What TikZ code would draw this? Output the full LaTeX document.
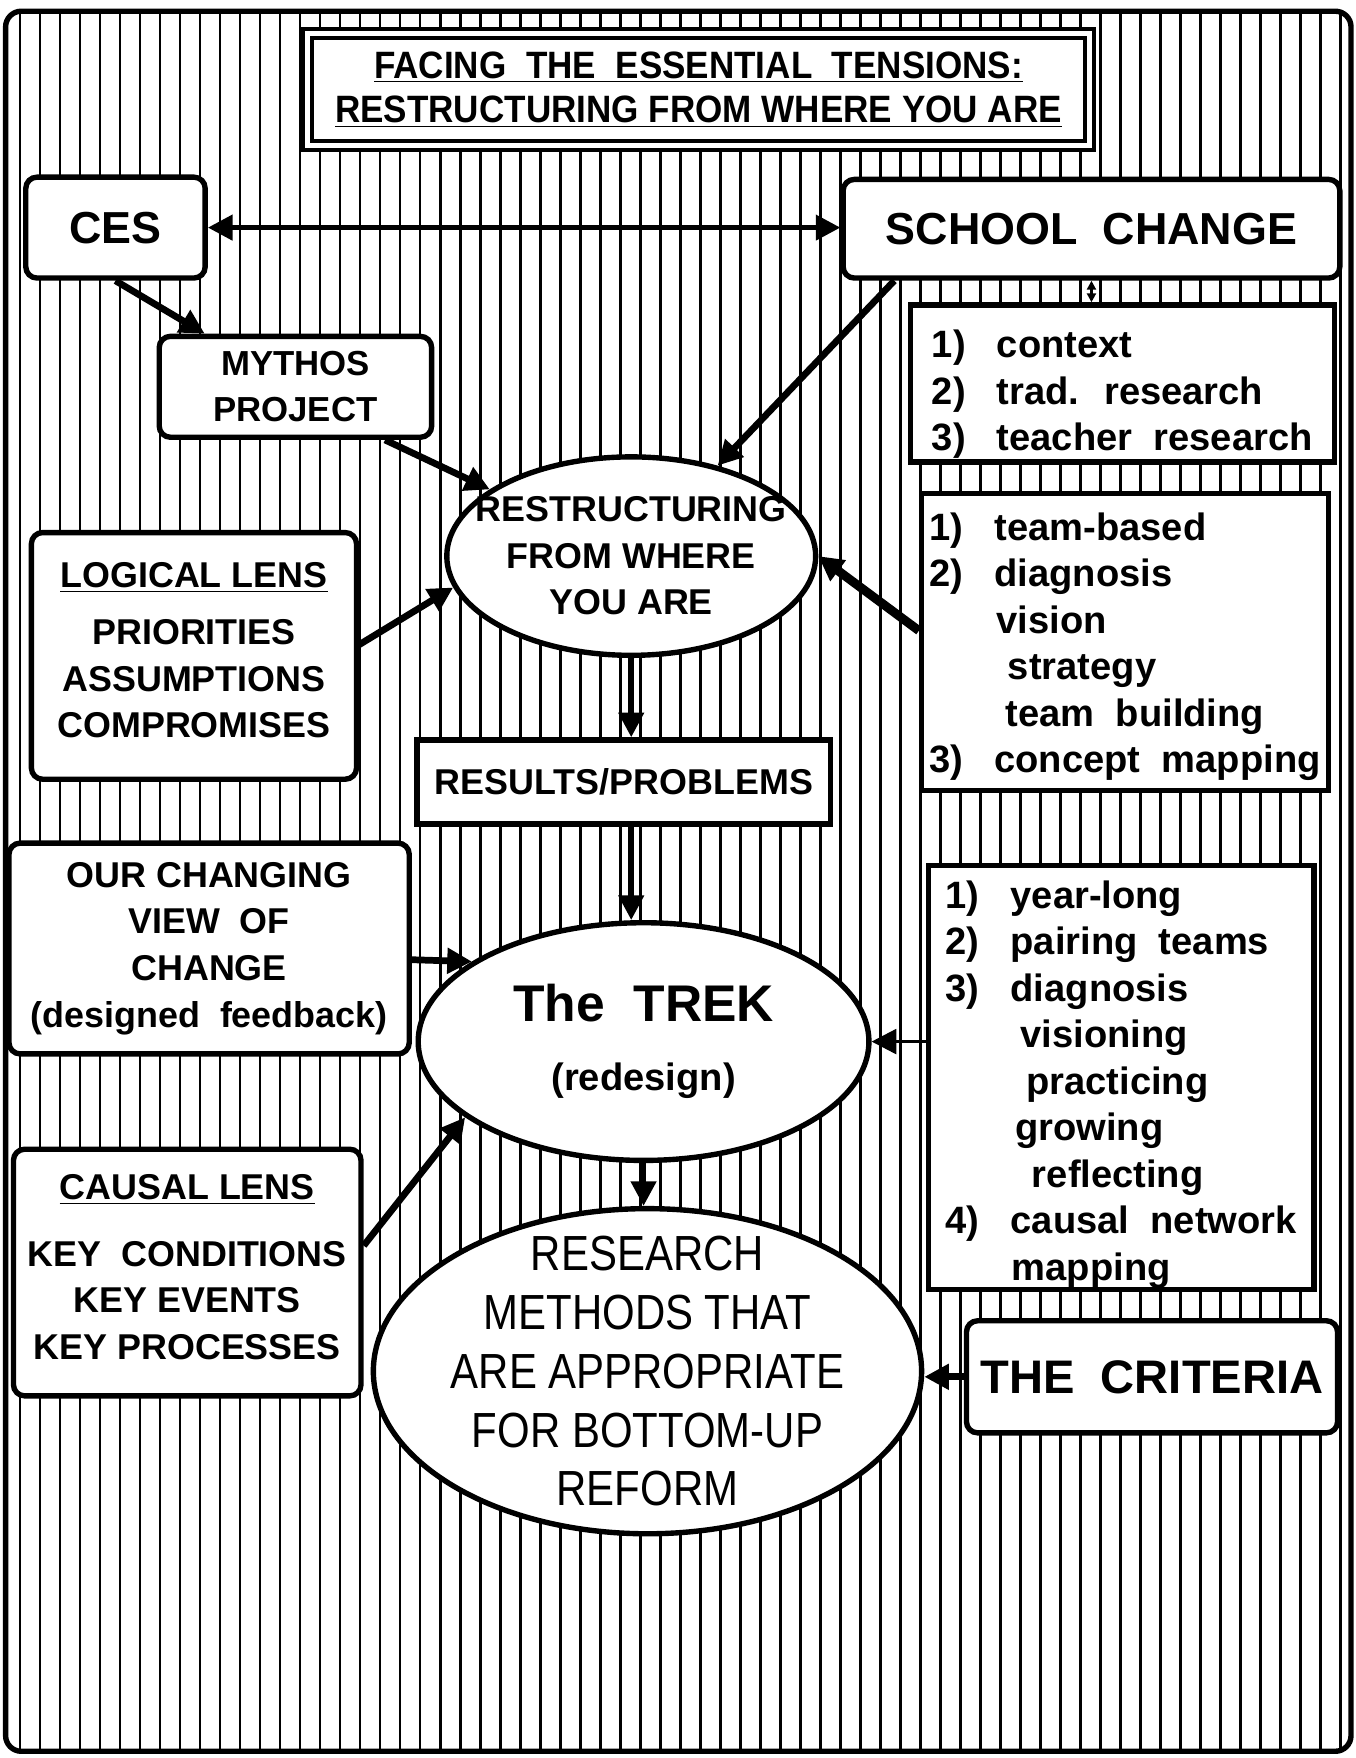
\documentclass[tikz,border=0pt]{standalone}
\usepackage{fontspec}
\setmainfont{Liberation Sans}
\newfontfamily\narrowfont[FakeStretch=0.85]{Liberation Sans}
\newfontfamily\titlefont[FakeStretch=0.92]{Liberation Sans}
\usepackage{tikz}
\usetikzlibrary{arrows.meta,shapes.geometric}

\newcommand{\listline}[2]{\mbox{\makebox[29pt][l]{#1)}#2}}
\newcommand{\subline}[2]{\mbox{\hspace*{#1}#2}}

\begin{document}
\begin{tikzpicture}[x=0.5pt, y=-0.5pt, >={Triangle[length=11pt,width=11pt]}, line width=2.4pt, box/.style={draw, fill=white, rounded corners=5pt, line width=2.4pt, align=center, inner sep=0pt, font=\fontsize{16}{20.75}\selectfont\bfseries}, plain box/.style={box, rounded corners=0pt}, list box/.style={draw, fill=white, line width=2.4pt, align=left, inner sep=0pt, font=\fontsize{17}{20.75}\selectfont\bfseries}, oval/.style={ellipse, draw, fill=white, line width=2.4pt, inner sep=0pt}, stripe/.style={line width=1.3pt}, link/.style={->, line width=3pt}]

\useasboundingbox (0,0) rectangle (1209,1568);

\begin{scope}
\clip[rounded corners=7pt] (5,10) rectangle (1205,1562);
\foreach \i in {1,...,67}
    \draw[stripe] (17.84*\i,0) -- (17.84*\i,1568);
\end{scope}
\draw[line width=2.4pt, rounded corners=7pt] (5,10) rectangle (1205,1562);

\node[plain box, double, line width=1.8pt, double distance=2.2pt, minimum width=348.5pt, minimum height=50pt, font=\titlefont\fontsize{17}{20}\selectfont\bfseries] (title) at (623,80) {\underline{FACING~ THE~ ESSENTIAL~ TENSIONS:}\\\underline{RESTRUCTURING FROM WHERE YOU ARE}};

\node[box, minimum width=80pt, minimum height=45pt, font=\fontsize{20}{24}\selectfont\bfseries] (ces) at (103,203) {CES};
\node[box, minimum width=221.5pt, minimum height=44pt, font=\fontsize{20}{24}\selectfont\bfseries] (school) at (973.5,204) {SCHOOL~ CHANGE};
\node[box, minimum width=121.5pt, minimum height=45pt, font=\fontsize{15.5}{20.5}\selectfont\bfseries] (mythos) at (263.5,345) {MYTHOS\\PROJECT};
\node[list box, minimum width=189pt, minimum height=70pt] (context) at (1001,342) {\rule{0pt}{22pt}\listline{1}{context}\\\listline{2}{trad.~ research}\\\listline{3}{teacher~ research}};

\node[oval, minimum width=164.5pt, minimum height=88.5pt, label={[align=center, font=\fontsize{16}{20.75}\selectfont\bfseries]center:{RESTRUCTURING\\FROM WHERE\\YOU ARE}}] (restr) at (563,496) {};
\node[box, minimum width=145pt, minimum height=110pt] (logical) at (173,585) {\underline{LOGICAL LENS}\\[4.5pt]PRIORITIES\\ASSUMPTIONS\\COMPROMISES\rule[-5pt]{0pt}{5pt}};
\node[list box, minimum width=181.5pt, minimum height=132.5pt] (teamwork) at (1003.5,572.5) {\rule{0pt}{16.5pt}\listline{1}{team-based}\\\listline{2}{diagnosis}\\\subline{30pt}{vision}\\\subline{35pt}{strategy}\\\subline{34pt}{team~ building}\\\listline{3}{concept~ mapping}};
\node[plain box, minimum width=184.5pt, minimum height=37.5pt] (results) at (556.5,697.5) {RESULTS/PROBLEMS};

\node[box, minimum width=178.5pt, minimum height=94pt] (changing) at (186.5,846) {OUR CHANGING\\VIEW~ OF\\CHANGE\\(designed~ feedback)};
\node[oval, minimum width=201pt, minimum height=106pt, label={[align=center, font=\fontsize{23}{27}\selectfont\bfseries]center:{The~ TREK\\[4pt]{\fontsize{17}{20}\selectfont (redesign)}}}] (trek) at (574,929) {};
\node[list box, minimum width=172pt, minimum height=189pt] (trekplan) at (1000,961) {\rule{0pt}{18.5pt}\listline{1}{year-long}\\\listline{2}{pairing~ teams}\\\listline{3}{diagnosis}\\\subline{33.5pt}{visioning}\\\subline{36pt}{practicing}\\\subline{31pt}{growing}\\\subline{38.5pt}{reflecting}\\\listline{4}{causal~ network}\\\subline{29.5pt}{mapping}};

\node[box, minimum width=155pt, minimum height=110pt] (causal) at (167,1135) {\underline{CAUSAL LENS}\\[9pt]KEY~ CONDITIONS\\KEY EVENTS\\KEY PROCESSES\rule[-5pt]{0pt}{5pt}};
\node[oval, minimum width=244.5pt, minimum height=145pt, label={[align=center, font=\narrowfont\fontsize{22}{26.25}\selectfont]center:{RESEARCH\\METHODS THAT\\ARE APPROPRIATE\\FOR BOTTOM-UP\\REFORM}}] (research) at (577.5,1223) {};
\node[box, minimum width=165.5pt, minimum height=50pt, font=\fontsize{21}{24}\selectfont\bfseries] (criteria) at (1027.5,1228) {THE~ CRITERIA};

\draw[<->] (ces.east) -- (ces.east -| school.west);
\draw[<->, line width=1.2pt, >={Triangle[length=4pt,width=4pt]}] (school.south) -- (school.south |- context.north);
\draw[link] (ces.south) -- ([xshift=21.5pt]mythos.north west);
\draw[link] ([xshift=24pt]school.south west) -- (restr);
\draw[link] ([xshift=-22pt]mythos.south east) -- (restr);
\draw[link] ([yshift=5pt]logical.east) -- (restr.190);
\draw[link, line width=4pt] ([yshift=5pt]teamwork.west) -- (restr.east);
\draw[link, line width=2.5pt] (restr.south) -- (restr.south |- results.north);
\draw[link, line width=2.5pt] (restr.south |- results.south) -- (restr.south |- trek.north);
\draw[link] ([yshift=-5pt]changing.east) -- (trek.155);
\draw[link, line width=1.5pt] (trekplan.west |- trek.east) -- (trek.east);
\draw[link] ([yshift=12pt]causal.east) -- (trek.203);
\draw[link, line width=2.5pt] (trek.south) -- (trek.south |- research.north);
\draw[link] (criteria.west) -- (criteria.west -| research.east);
\end{tikzpicture}
\end{document}
